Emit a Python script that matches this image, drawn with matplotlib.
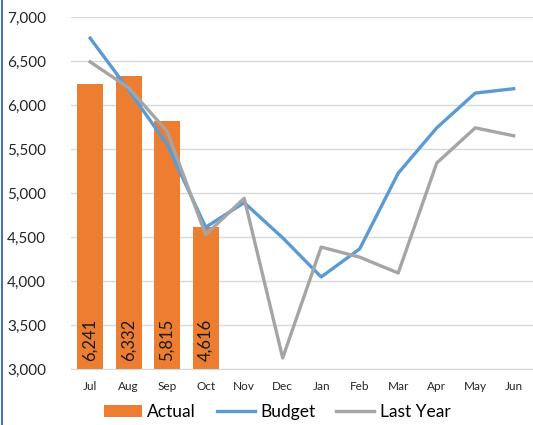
import matplotlib
matplotlib.use("Agg")
import matplotlib.pyplot as plt
from matplotlib.lines import Line2D
from matplotlib.ticker import FuncFormatter

plt.rcParams['font.family'] = ['Lato', 'DejaVu Sans']

months = ["Jul", "Aug", "Sep", "Oct", "Nov", "Dec", "Jan", "Feb", "Mar", "Apr", "May", "Jun"]
actual = [6241, 6332, 5815, 4616]
budget = [6760, 6170, 5550, 4610, 4890, 4490, 4045, 4365, 5225, 5740, 6135, 6185]
last_year = [6490, 6195, 5700, 4525, 4940, 3125, 4385, 4270, 4090, 5340, 5740, 5650]

fig = plt.figure(figsize=(5.33, 4.25), dpi=100)
ax = fig.add_axes([0.133, 0.132, 0.867, 0.828])

x = list(range(len(months)))
bars = ax.bar(x[:len(actual)], actual, width=0.68, color="#ED7D31", label="Actual", zorder=2)
l1, = ax.plot(x, budget, color="#5B9BD5", linewidth=2.4, label="Budget", zorder=3)
l2, = ax.plot(x, last_year, color="#A5A5A5", linewidth=2.4, label="Last Year", zorder=3)

# value labels at the base of each bar
for i, v in enumerate(actual):
    ax.annotate(f"{v:,}", (i, 3000), xytext=(0, 6), textcoords="offset points",
                rotation=90, ha="center", va="bottom", fontsize=12, color="#1a1a1a")

ax.set_ylim(3000, 7000)
ax.set_xlim(-0.5, len(months) - 0.5)
ax.set_yticks(range(3000, 7001, 500))
ax.yaxis.set_major_formatter(FuncFormatter(lambda v, p: f"{int(v):,}"))
ax.set_xticks(x)
ax.set_xticklabels(months)
ax.tick_params(axis="y", labelsize=11, colors="#262626", length=0, pad=18)
ax.tick_params(axis="x", labelsize=8.5, colors="#262626", length=0, pad=9)

ax.grid(axis="y", color="#D9D9D9", linewidth=1, zorder=0)
ax.set_axisbelow(True)
for s in ["top", "right", "left"]:
    ax.spines[s].set_visible(False)
ax.spines["bottom"].set_color("#D9D9D9")

fig.legend([bars, l1, l2], ["Actual", "Budget", "Last Year"], loc="center",
           bbox_to_anchor=(0.52, 0.03), ncol=3, frameon=False,
           fontsize=12.5, handlelength=2.2, handletextpad=0.3, columnspacing=1.2)

# blue border line on the left edge
fig.add_artist(Line2D([0.004, 0.004], [0, 1], transform=fig.transFigure, color="#4472C4", linewidth=1.5))

fig.savefig("out.png", dpi=100)
